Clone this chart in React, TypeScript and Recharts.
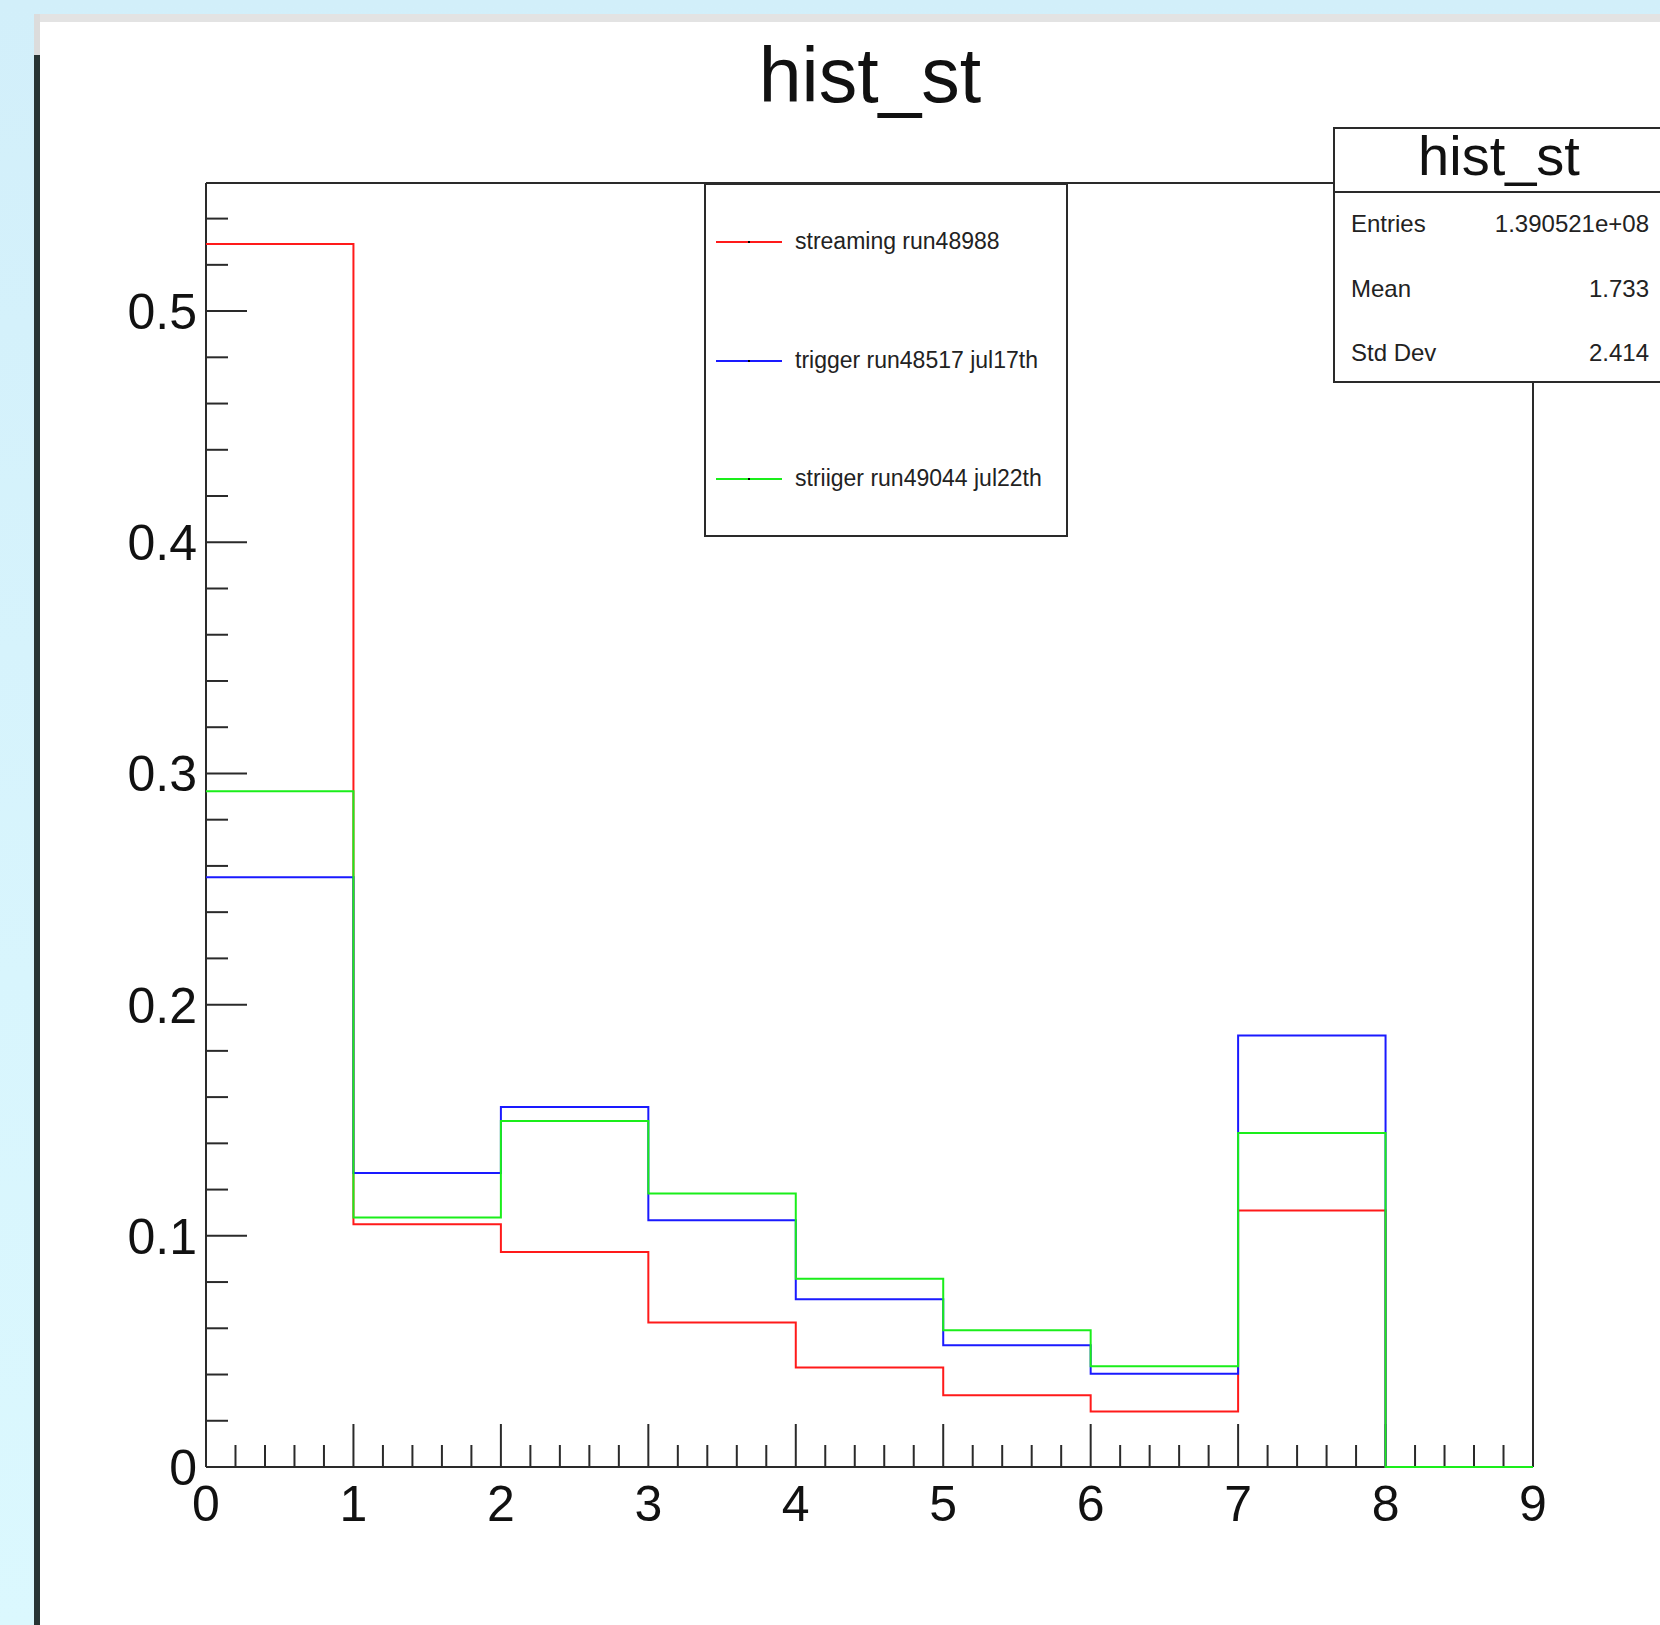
import { ComposedChart, Line, XAxis, YAxis, Legend } from "recharts";

// bin edges of hist_st and the normalised content of each bin (last bin is empty)
const binEdges = [0, 1, 2, 3, 4, 5, 6, 7, 8, 9];
const streaming = [0.529, 0.105, 0.093, 0.0625, 0.043, 0.031, 0.024, 0.111, 0];
const trigger = [0.2551, 0.1272, 0.1557, 0.1067, 0.0726, 0.0527, 0.0403, 0.1867, 0];
const striiger = [0.2923, 0.1079, 0.1497, 0.1183, 0.0814, 0.0591, 0.0436, 0.1445, 0];

const seriesKeys = ["streaming", "trigger", "striiger"];
const seriesNames = ["streaming run48988", "trigger run48517 jul17th", "striiger run49044 jul22th"];
const seriesColors = ["#ff1a1a", "#1a1aff", "#1aee1a"];

// axis ticks (ROOT style: labelled majors, unlabelled minors)
const xMajorTicks = [0, 1, 2, 3, 4, 5, 6, 7, 8, 9];
const yMajorTicks = [0, 0.1, 0.2, 0.3, 0.4, 0.5];
const xMinorPerMajor = 5;
const yMinorPerMajor = 5;
const yTop = 0.5554;

const statsRows = [
  ["Entries", "1.390521e+08"],
  ["Mean", "1.733"],
  ["Std Dev", "2.414"],
];

const FONT = "'Liberation Sans', Arial, Helvetica, sans-serif";
const AXIS = "#2a2a2a";
const W = 1660;
const H = 1625;

const xTicks: number[] = [];
for (let i = 0; i < xMajorTicks.length - 1; i++) {
  for (let k = 0; k < xMinorPerMajor; k++) {
    xTicks.push(xMajorTicks[i] + (k * (xMajorTicks[i + 1] - xMajorTicks[i])) / xMinorPerMajor);
  }
}
xTicks.push(xMajorTicks[xMajorTicks.length - 1]);

const yTicks: number[] = [];
for (let i = 0; i < yMajorTicks.length; i++) {
  const step = 0.1 / yMinorPerMajor;
  for (let k = 0; k < yMinorPerMajor; k++) {
    const v = Math.round((yMajorTicks[i] + k * step) * 1000) / 1000;
    if (v <= yTop) yTicks.push(v);
  }
}

const isMajor = (v: number, list: number[]) => list.some((m) => Math.abs(m - v) < 1e-6);

const data = binEdges.map((x, i) => {
  const j = Math.min(i, streaming.length - 1);
  return { x, streaming: streaming[j], trigger: trigger[j], striiger: striiger[j] };
});

function XTick(props: any) {
  const { x, y, payload } = props;
  const major = isMajor(payload.value, xMajorTicks);
  return (
    <g>
      <line x1={x} x2={x} y1={y} y2={y - (major ? 43 : 22)} stroke={AXIS} strokeWidth={2} />
      {major && (
        <text x={x} y={y + 54} textAnchor="middle" fontSize={50} fontFamily={FONT} fill="#111">
          {payload.value}
        </text>
      )}
    </g>
  );
}

function YTick(props: any) {
  const { x, y, payload } = props;
  const major = isMajor(payload.value, yMajorTicks);
  return (
    <g>
      <line x1={x} x2={x + (major ? 41 : 22)} y1={y} y2={y} stroke={AXIS} strokeWidth={2} />
      {major && (
        <text x={x - 9} y={y + 18} textAnchor="end" fontSize={50} fontFamily={FONT} fill="#111">
          {String(payload.value)}
        </text>
      )}
    </g>
  );
}

function LegendBox() {
  return (
    <div
      style={{
        width: 364,
        height: 354,
        boxSizing: "border-box",
        border: `2px solid ${AXIS}`,
        background: "#fff",
        position: "relative",
        fontFamily: FONT,
      }}
    >
      {seriesNames.map((name, i) => (
        <div key={name} style={{ position: "absolute", left: 10, top: 57 + i * 118.5, height: 0 }}>
          <div style={{ position: "absolute", left: 0, top: -1, width: 66, height: 2, background: seriesColors[i] }} />
          <div style={{ position: "absolute", left: 32, top: -1, width: 2, height: 2, background: "#000" }} />
          <div
            style={{
              position: "absolute",
              left: 79,
              top: -14,
              fontSize: 23,
              lineHeight: "26px",
              whiteSpace: "nowrap",
              color: "#222",
            }}
          >
            {name}
          </div>
        </div>
      ))}
    </div>
  );
}

export default function App() {
  return (
    <div
      style={{
        position: "absolute",
        left: 0,
        top: 0,
        width: W,
        height: H,
        overflow: "hidden",
        background: "linear-gradient(180deg, #d2effa 0%, #d8f5fd 60%, #dbf8fe 100%)",
        fontFamily: FONT,
      }}
    >
      {/* canvas frame */}
      <div style={{ position: "absolute", left: 34, top: 14, width: 1640, height: 1620, background: "#fff" }} />
      <div style={{ position: "absolute", left: 34, top: 14, width: 1640, height: 8, background: "#e3e3e3" }} />
      <div style={{ position: "absolute", left: 34, top: 14, width: 6, height: 41, background: "#dcdcdc" }} />
      <div style={{ position: "absolute", left: 34, top: 55, width: 6, height: 1580, background: "#283434" }} />

      <div
        style={{
          position: "absolute",
          left: 0,
          top: 37,
          width: 1740,
          textAlign: "center",
          fontSize: 77,
          lineHeight: "77px",
          color: "#111",
        }}
      >
        hist_st
      </div>

      {/* frame, ticks and labels */}
      <div style={{ position: "absolute", left: 0, top: 0 }}>
        <ComposedChart width={W} height={H} data={data} margin={{ top: 182, right: 126, bottom: 157, left: 205 }}>
          <XAxis
            dataKey="x"
            type="number"
            domain={[0, 9]}
            ticks={xTicks}
            interval={0}
            height={1}
            tickSize={0}
            tickMargin={0}
            tickLine={false}
            tick={<XTick />}
            axisLine={{ stroke: AXIS, strokeWidth: 2 }}
          />
          <XAxis
            xAxisId="top"
            orientation="top"
            dataKey="x"
            type="number"
            domain={[0, 9]}
            height={1}
            tick={false}
            tickLine={false}
            axisLine={{ stroke: AXIS, strokeWidth: 2 }}
          />
          <YAxis
            dataKey="streaming"
            type="number"
            domain={[0, yTop]}
            ticks={yTicks}
            interval={0}
            width={1}
            tickSize={0}
            tickMargin={0}
            tickLine={false}
            tick={<YTick />}
            axisLine={{ stroke: AXIS, strokeWidth: 2 }}
          />
          <YAxis
            yAxisId="right"
            orientation="right"
            dataKey="streaming"
            type="number"
            domain={[0, yTop]}
            width={1}
            tick={false}
            tickLine={false}
            axisLine={{ stroke: AXIS, strokeWidth: 2 }}
          />
        </ComposedChart>
      </div>

      {/* histograms drawn above the axis frame, as ROOT does */}
      <div style={{ position: "absolute", left: 0, top: 0 }}>
        <ComposedChart width={W} height={H} data={data} margin={{ top: 183, right: 127, bottom: 158, left: 206 }}>
          <XAxis dataKey="x" type="number" domain={[0, 9]} hide />
          <YAxis type="number" domain={[0, yTop]} hide />
          <Legend
            layout="vertical"
            align="center"
            verticalAlign="middle"
            wrapperStyle={{ left: 704, top: 183, width: 364, height: 354 }}
            content={<LegendBox />}
          />
          {seriesKeys.map((key, i) => (
            <Line
              key={key}
              type="stepAfter"
              dataKey={key}
              name={seriesNames[i]}
              stroke={seriesColors[i]}
              strokeWidth={2}
              dot={false}
              isAnimationActive={false}
            />
          ))}
        </ComposedChart>
      </div>

      {/* stats box */}
      <div
        style={{
          position: "absolute",
          left: 1333,
          top: 127,
          width: 332,
          height: 256,
          boxSizing: "border-box",
          border: `2px solid ${AXIS}`,
          background: "#fff",
        }}
      >
        <div
          style={{
            position: "absolute",
            left: 0,
            top: 0,
            width: 328,
            height: 62,
            borderBottom: `2px solid ${AXIS}`,
            textAlign: "center",
            fontSize: 56,
            lineHeight: "56px",
            color: "#111",
          }}
        >
          <span style={{ position: "relative", top: -1 }}>hist_st</span>
        </div>
        {statsRows.map((r, i) => (
          <div
            key={r[0]}
            style={{ position: "absolute", left: 16, top: 83 + i * 64.5, width: 298, fontSize: 24, lineHeight: "24px", color: "#222" }}
          >
            <span>{r[0]}</span>
            <span style={{ position: "absolute", left: 0, width: 298, textAlign: "right" }}>{r[1]}</span>
          </div>
        ))}
      </div>
    </div>
  );
}
